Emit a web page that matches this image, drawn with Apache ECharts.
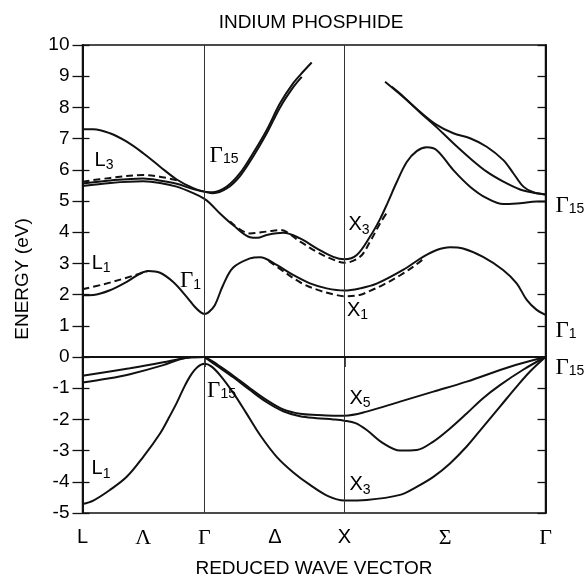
<!DOCTYPE html>
<html>
<head>
<meta charset="utf-8">
<script src="https://cdn.jsdelivr.net/npm/echarts@6/dist/echarts.min.js"></script>
<style>
  html, body { margin: 0; padding: 0; background: #fff; }
  #chart { width: 586px; height: 579px; }
</style>
</head>
<body>
<div id="chart"></div>
<script>
// Path through the Brillouin zone L – Γ – X – Γ, wave vector in units of 2π/a
const symmetryK = [0, 0.871, 1.871, 3.307];
const pathTickK = [0, 0.434, 0.871, 1.375, 1.871, 2.59, 3.307];
const pathTickNames = ['L', 'Λ', 'Γ', 'Δ', 'X', 'Σ', 'Γ'];

// Energy states at Γ (right-hand side), eV
const gammaEnergies = [4.86, 0.85, -0.32];
const gammaStates = [['Γ', '15'], ['Γ', '1'], ['Γ', '15']];

// Conduction bands [k, E(eV)]
const condLowest = [[0,1.98],[0.077,1.99],[0.196,2.14],[0.316,2.41],[0.47,2.76],[0.554,2.70],[0.646,2.41],[0.744,1.93],[0.80,1.62],[0.845,1.43],[0.871,1.38],[0.9,1.43],[0.945,1.66],[1.004,2.30],[1.075,2.86],[1.196,3.16],[1.268,3.20],[1.387,2.95],[1.504,2.63],[1.625,2.36],[1.744,2.20],[1.871,2.13],[1.982,2.20],[2.101,2.35],[2.289,2.79],[2.432,3.21],[2.53,3.43],[2.625,3.52],[2.718,3.48],[2.861,3.21],[3.004,2.79],[3.101,2.36],[3.173,1.83],[3.244,1.51],[3.307,1.35]];
const condLowestAltL = [[0,2.17],[0.15,2.33],[0.3,2.52],[0.47,2.76]];
const condLowestAltX = [[1.33,3.08],[1.45,2.70],[1.56,2.38],[1.68,2.15],[1.80,2.00],[1.871,1.95],[1.98,1.99],[2.054,2.12],[2.15,2.32],[2.27,2.62],[2.38,2.95],[2.45,3.2]];

const condSecond = [[0,5.48],[0.2,5.58],[0.434,5.63],[0.554,5.58],[0.673,5.46],[0.791,5.25],[0.871,5.07],[0.91,4.93],[0.982,4.6],[1.075,4.23],[1.196,3.84],[1.25,3.82],[1.316,3.91],[1.434,3.98],[1.554,3.80],[1.673,3.48],[1.791,3.21],[1.871,3.13],[1.959,3.27],[2.054,3.86],[2.125,4.42],[2.18,4.95],[2.244,5.6],[2.316,6.25],[2.387,6.6],[2.459,6.72],[2.53,6.63],[2.649,5.99],[2.768,5.46],[2.887,5.09],[3.006,4.90],[3.125,4.93],[3.244,4.98],[3.307,4.98]];
const condSecondAlt = [[1.054,4.34],[1.196,3.96],[1.316,4.02],[1.411,4.07],[1.554,3.70],[1.673,3.37],[1.791,3.12],[1.871,3.02],[1.982,3.21],[2.054,3.7],[2.125,4.28],[2.17,4.6]];

const condThird = [[0,5.56],[0.2,5.66],[0.434,5.72],[0.56,5.65],[0.673,5.55],[0.791,5.38],[0.871,5.3],[0.932,5.25],[1.03,5.4],[1.125,5.8],[1.218,6.42],[1.316,7.17],[1.411,8.0],[1.504,8.64],[1.566,8.98]];
const condThirdAlt = [[0,5.62],[0.2,5.74],[0.434,5.83],[0.55,5.78],[0.68,5.66]];
const condFourth = [[0,7.3],[0.077,7.3],[0.196,7.17],[0.316,6.9],[0.434,6.53],[0.554,6.1],[0.673,5.69],[0.791,5.41],[0.871,5.3],[0.932,5.28],[1.03,5.46],[1.125,5.89],[1.218,6.53],[1.316,7.28],[1.411,8.13],[1.504,8.77],[1.577,9.15],[1.637,9.44]];

const sigmaUpperA = [[2.161,8.82],[2.289,8.34],[2.411,7.86],[2.53,7.44],[2.649,7.17],[2.768,7.01],[2.887,6.74],[3.006,6.31],[3.077,5.89],[3.149,5.46],[3.22,5.28],[3.307,5.21]];
const sigmaUpperB = [[2.209,8.66],[2.289,8.36],[2.411,7.84],[2.53,7.36],[2.649,6.85],[2.768,6.37],[2.887,5.94],[3.006,5.62],[3.125,5.37],[3.244,5.25],[3.307,5.21]];

// Valence bands [k, E(eV)]
const valTopA = [[0,-0.6],[0.339,-0.36],[0.577,-0.17],[0.696,-0.06],[0.78,-0.01],[0.871,0]];
const valTopB = [[0,-0.82],[0.17,-0.7],[0.339,-0.55],[0.577,-0.26],[0.696,-0.07],[0.78,-0.01],[0.871,0]];
const valLowest = [[0,-4.71],[0.077,-4.6],[0.196,-4.26],[0.316,-3.84],[0.434,-3.2],[0.554,-2.45],[0.613,-1.98],[0.673,-1.47],[0.72,-1.02],[0.768,-0.62],[0.82,-0.33],[0.871,-0.22],[0.92,-0.3],[0.982,-0.58],[1.077,-1.15],[1.17,-1.8],[1.268,-2.5],[1.387,-3.2],[1.506,-3.7],[1.625,-4.1],[1.75,-4.45],[1.871,-4.6],[2.03,-4.58],[2.268,-4.42],[2.387,-4.16],[2.506,-3.84],[2.625,-3.41],[2.744,-2.87],[2.863,-2.23],[2.982,-1.59],[3.101,-0.95],[3.2,-0.45],[3.307,0]];
const valX5 = [[0.871,0],[0.932,-0.15],[0.982,-0.3],[1.077,-0.6],[1.196,-1.0],[1.316,-1.38],[1.434,-1.68],[1.554,-1.82],[1.673,-1.86],[1.791,-1.88],[1.871,-1.88],[2.03,-1.75],[2.268,-1.43],[2.506,-1.11],[2.744,-0.79],[3.054,-0.31],[3.307,0]];
const valX3 = [[0.871,0],[0.932,-0.2],[0.982,-0.35],[1.077,-0.65],[1.196,-1.06],[1.316,-1.45],[1.434,-1.74],[1.554,-1.9],[1.673,-1.96],[1.791,-2.0],[1.871,-2.04],[1.95,-2.12],[2.03,-2.34],[2.149,-2.77],[2.268,-3.0],[2.387,-2.98],[2.506,-2.71],[2.625,-2.29],[2.744,-1.81],[2.861,-1.32],[2.982,-0.9],[3.15,-0.4],[3.307,0]];

// State labels: symbol, subscript, k, E
const stateLabels = [
  ['L', '3', 0.154, 6.28],
  ['Γ', '15', 1.011, 6.47],
  ['L', '1', 0.133, 2.98],
  ['Γ', '1', 0.771, 2.44],
  ['X', '3', 1.975, 4.2],
  ['X', '1', 1.964, 1.47],
  ['Γ', '15', 0.993, -1.06],
  ['X', '5', 1.982, -1.35],
  ['L', '1', 0.132, -3.62],
  ['X', '3', 1.982, -4.13]
];

const SANS = 'Liberation Sans';
const SERIF = 'Liberation Serif';
const INK = '#000';

const richStyles = {
  r: { fontFamily: SANS, fontSize: 20, lineHeight: 22, verticalAlign: 'top', color: INK },
  g: { fontFamily: SERIF, fontSize: 23, lineHeight: 22, verticalAlign: 'top', color: INK },
  s: { fontFamily: SANS, fontSize: 14, lineHeight: 14, verticalAlign: 'bottom', padding: [10, 0, 0, 0], color: INK }
};
function stateText(sym, sub) {
  const key = (sym === 'Γ') ? 'g' : 'r';
  return '{' + key + '|' + sym + '}{s|' + sub + '}';
}

function band(data, dashed) {
  return {
    type: 'line',
    data: data,
    showSymbol: false,
    symbol: 'none',
    smooth: 0.35,
    silent: true,
    lineStyle: { color: '#111', width: 2, type: dashed ? [7, 4] : 'solid' },
    z: 3
  };
}

const chart = echarts.init(document.getElementById('chart'), null, { renderer: 'canvas' });

const series = [
  band(condLowest), band(condLowestAltL, true), band(condLowestAltX, true),
  band(condSecond), band(condSecondAlt, true),
  band(condThird), band(condThirdAlt, true), band(condFourth),
  band(sigmaUpperA), band(sigmaUpperB),
  band(valTopA), band(valTopB), band(valLowest), band(valX5), band(valX3)
];

// Symmetry-point verticals and the zero-energy line
series[0].markLine = {
  silent: true,
  symbol: 'none',
  label: { show: false },
  animation: false,
  data: [
    { xAxis: symmetryK[1], lineStyle: { color: '#333', width: 1, type: 'solid' } },
    { xAxis: symmetryK[2], lineStyle: { color: '#333', width: 1, type: 'solid' } },
    { yAxis: 0, lineStyle: { color: '#111', width: 1.8, type: 'solid' } }
  ]
};

// Band-state annotations
series.push({
  type: 'scatter',
  symbolSize: 0,
  itemStyle: { color: '#000', opacity: 1 },
  silent: true,
  z: 5,
  data: stateLabels.map(d => ({ value: [d[2], d[3]], sym: d[0], sub: d[1] })),
  label: {
    show: true,
    position: 'inside',
    align: 'center',
    verticalAlign: 'middle',
    color: INK,
    opacity: 1,
    textBorderWidth: 0,
    formatter: p => stateText(p.data.sym, p.data.sub),
    rich: richStyles
  }
});

const option = {
  animation: false,
  backgroundColor: '#fff',
  graphic: [{
    type: 'text',
    x: 311, y: 13,
    style: { text: 'INDIUM PHOSPHIDE', font: '19px "Liberation Sans"', fill: INK, align: 'center', verticalAlign: 'top' }
  }],
  grid: {
    left: 82.5, top: 45, right: 40.5, bottom: 66,
    show: true, borderColor: '#111', borderWidth: 1.5,
    outerBoundsMode: 'none'
  },
  xAxis: {
    type: 'value',
    min: 0, max: symmetryK[3],
    name: 'REDUCED WAVE VECTOR',
    nameLocation: 'middle',
    nameGap: 46,
    nameTextStyle: { fontFamily: SANS, fontSize: 19, color: INK },
    axisLine: { show: true, lineStyle: { color: '#111', width: 1.8 } },
    axisTick: { show: true, inside: false, length: 10, customValues: symmetryK, lineStyle: { color: '#111', width: 1.5 } },
    axisLabel: {
      show: true,
      margin: 14,
      customValues: pathTickK,
      formatter: v => {
        let i = 0;
        pathTickK.forEach((p, j) => { if (Math.abs(p - v) < Math.abs(pathTickK[i] - v)) i = j; });
        const n = pathTickNames[i];
        return (n === 'Γ' || n === 'Σ' || n === 'Λ') ? '{g|' + n + '}' : '{r|' + n + '}';
      },
      rich: {
        r: { fontFamily: SANS, fontSize: 20, color: INK },
        g: { fontFamily: SERIF, fontSize: 22, color: INK }
      }
    },
    splitLine: { show: false }
  },
  yAxis: [
    {
      type: 'value',
      position: 'left',
      min: -5, max: 10, interval: 1,
      name: 'ENERGY (eV)',
      nameLocation: 'middle',
      nameGap: 50,
      nameTextStyle: { fontFamily: SANS, fontSize: 19, color: INK },
      axisLine: { show: true, lineStyle: { color: '#111', width: 2 } },
      axisTick: { show: true, inside: false, length: 10, lineStyle: { color: '#111', width: 1.3 } },
      axisLabel: { fontFamily: SANS, fontSize: 19, color: INK, margin: 13,
        formatter: v => String(v) },
      splitLine: { show: false }
    },
    {
      type: 'value',
      position: 'right',
      min: -5, max: 10, interval: 1,
      axisLine: { show: true, lineStyle: { color: '#111', width: 2 } },
      axisTick: { show: true, inside: true, length: 8, lineStyle: { color: '#111', width: 1.3 } },
      axisLabel: {
        show: true,
        margin: 10,
        customValues: gammaEnergies,
        formatter: v => {
          let i = 0;
          gammaEnergies.forEach((p, j) => { if (Math.abs(p - v) < Math.abs(gammaEnergies[i] - v)) i = j; });
          return stateText(gammaStates[i][0], gammaStates[i][1]);
        },
        rich: richStyles
      },
      splitLine: { show: false }
    },
    {
      type: 'value',
      position: 'left',
      min: -5, max: 10, interval: 1,
      axisLine: { show: false },
      axisTick: { show: true, inside: true, length: 7, lineStyle: { color: '#111', width: 1.3 } },
      axisLabel: { show: false },
      splitLine: { show: false }
    }
  ],
  series: series
};

chart.setOption(option);
</script>
</body>
</html>
